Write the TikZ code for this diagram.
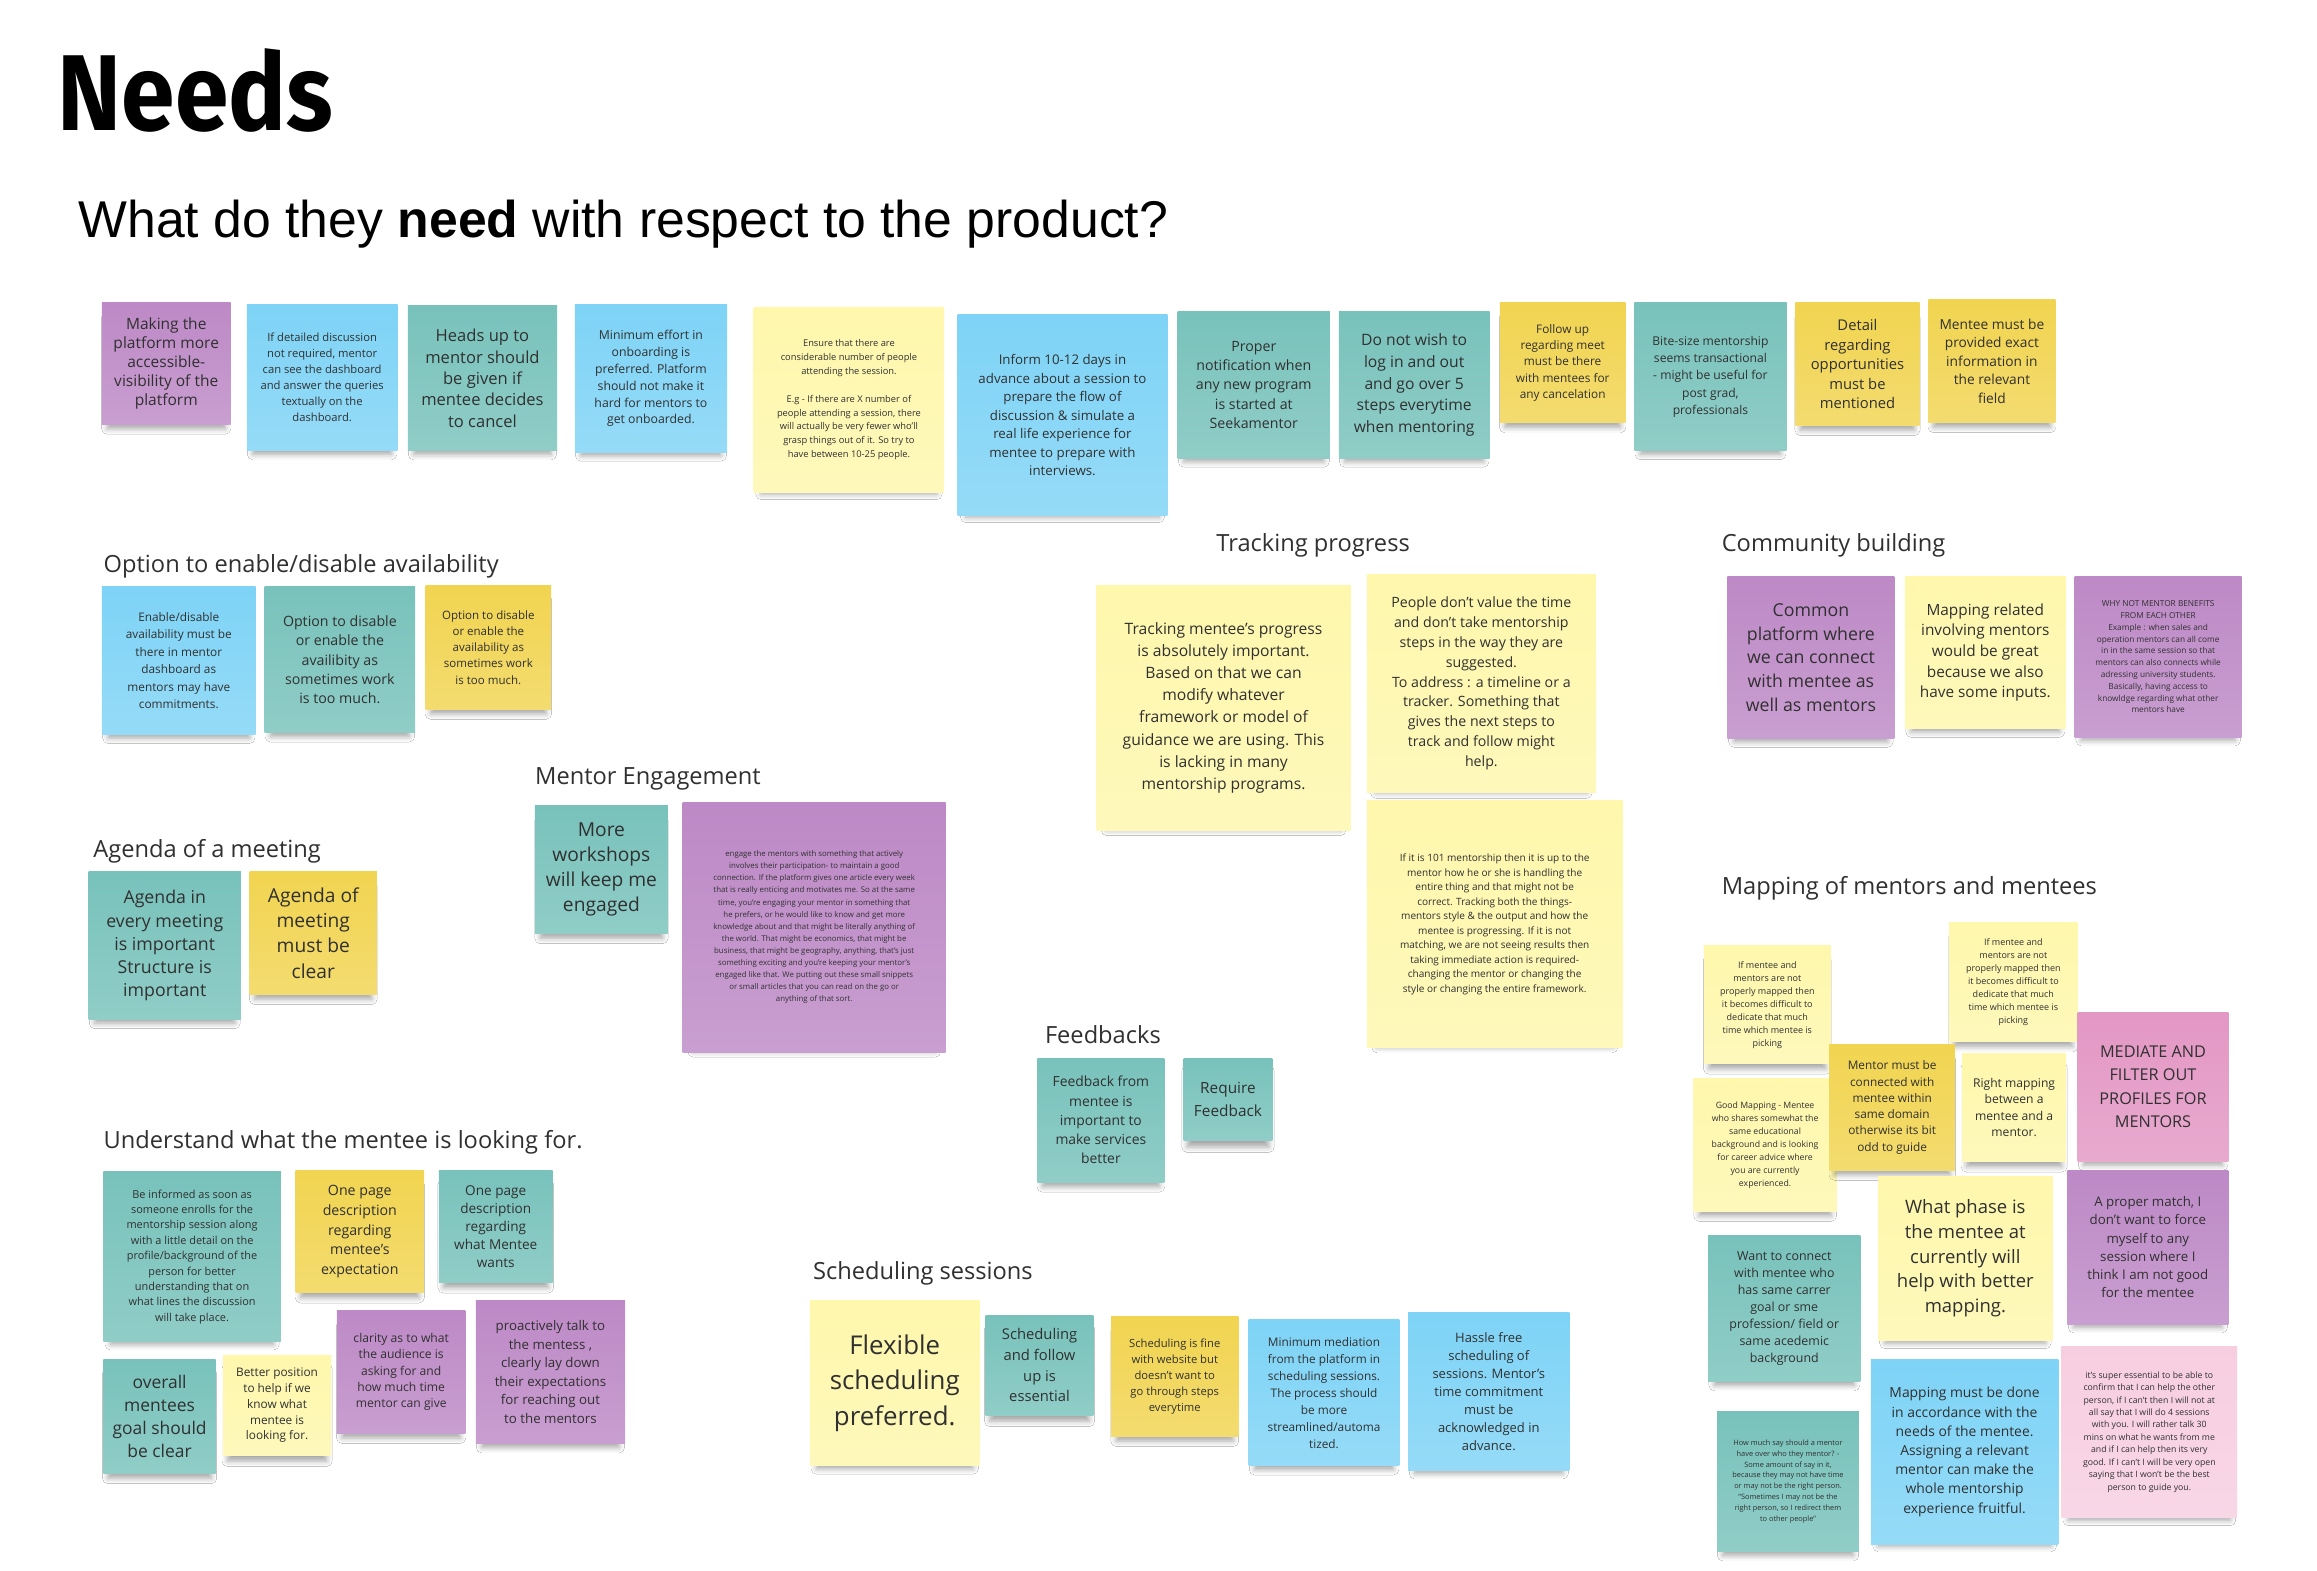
\documentclass[tikz,border=0pt]{standalone}
\usepackage{fontspec}
\setmainfont{Open Sans}
\newfontfamily\titlefont{Fira Sans}[FakeStretch=0.895]
\newfontfamily\qfont{Liberation Sans}
\usetikzlibrary{shadows.blur}
\definecolor{npurple}{RGB}{189,137,198}
\definecolor{nblue}{RGB}{126,211,246}
\definecolor{nteal}{RGB}{120,194,187}
\definecolor{nlyellow}{RGB}{254,247,172}
\definecolor{ngold}{RGB}{241,212,80}
\definecolor{npink}{RGB}{227,151,196}
\definecolor{nlpink}{RGB}{247,206,224}
\definecolor{ntext}{RGB}{48,48,48}
\tikzset{
  note/.style={rectangle, inner sep=0pt, outer sep=0pt, align=center, text=ntext,
    blur shadow={shadow xshift=0pt, shadow yshift=-7pt, shadow blur radius=4pt, shadow opacity=35, shadow scale=0.92}},
  sect/.style={anchor=west, inner sep=0pt, text=ntext, font=\fontsize{16}{19}\selectfont},
}
\newcommand\sticky[9]{\node[note, top color=#6, bottom color=#6!82!white,
  minimum width={(#4-#2)*1pt}, minimum height={(#5-#3)*1pt},
  font=\fontsize{#7}{#8}\selectfont] (#1) at ({(#2+#4)/2},{(#3+#5)/2}) {#9};}
\begin{document}
\begin{tikzpicture}[x=1pt,y=-1pt]
\useasboundingbox (0,0) rectangle (1568,1063);
\fill[white] (0,0) rectangle (1568,1063);
% titles
\node[anchor=west, inner sep=0pt, text=black, font=\titlefont\bfseries\fontsize{73}{80}\selectfont] (title) at (39,61) {Needs};
\node[anchor=west, inner sep=0pt, text=black, font=\qfont\fontsize{35}{42}\selectfont] (question) at (53,152) {What do they \textbf{need} with respect to the product?};
% top row
\sticky{n1}{69}{205}{156}{287}{npurple}{10.5}{13}{Making the\\platform more\\accessible-\\visibility of the\\platform}
\sticky{n2}{167}{206}{269}{305}{nblue}{7.6}{10.8}{If detailed discussion\\not required, mentor\\can see the dashboard\\and answer the queries\\textually on the\\dashboard.}
\sticky{n3}{276}{207}{377}{305}{nteal}{11.2}{14.5}{Heads up to\\mentor should\\be given if\\mentee decides\\to cancel}
\sticky{n4}{389}{206}{492}{306}{nblue}{8.3}{11.5}{Minimum effort in\\onboarding is\\preferred. Platform\\should not make it\\hard for mentors to\\get onboarded.}
\sticky{n5}{510}{208}{639}{333}{nlyellow}{6.3}{9.4}{Ensure that there are\\considerable number of people\\attending the session.\\[9.4pt]E.g - If there are X number of\\people attending a session, there\\will actually be very fewer who'll\\grasp things out of it. So try to\\have between 10-25 people.}
\sticky{n6}{648}{213}{790}{349}{nblue}{9}{12.5}{Inform 10-12 days in\\advance about a session to\\prepare the flow of\\discussion \& simulate a\\real life experience for\\mentee to prepare with\\interviews.}
\sticky{n7}{797}{211}{900}{310}{nteal}{9.6}{13}{Proper\\notification when\\any new program\\is started at\\Seekamentor}
\sticky{n8}{906}{211}{1008}{310}{nteal}{10.6}{14.7}{Do not wish to\\log in and out\\and go over 5\\steps everytime\\when mentoring}
\sticky{n9}{1015}{205}{1100}{286}{ngold}{8}{11}{Follow up\\regarding meet\\must be there\\with mentees for\\any cancelation}
\sticky{n10}{1106}{205}{1209}{305}{nteal}{8.2}{11.7}{Bite-size mentorship\\seems transactional\\- might be useful for\\post grad,\\professionals}
\sticky{n11}{1215}{205}{1299}{288}{ngold}{10}{13.2}{Detail\\regarding\\opportunities\\must be\\mentioned}
\sticky{n12}{1305}{203}{1391}{286}{ngold}{9.3}{12.5}{Mentee must be\\provided exact\\information in\\the relevant\\field}
% option section
\node[sect] (optlabel) at (70,383) {Option to enable/disable availability};
\sticky{o1}{69}{397}{173}{497}{nblue}{8}{11.8}{Enable/disable\\availability must be\\there in mentor\\dashboard as\\mentors may have\\commitments.}
\sticky{o2}{179}{397}{281}{496}{nteal}{9.6}{13}{Option to disable\\or enable the\\availibity as\\sometimes work\\is too much.}
\sticky{o3}{288}{396}{373}{480}{ngold}{7.8}{11}{Option to disable\\or enable the\\availability as\\sometimes work\\is too much.}
% agenda
\node[sect] (agendalabel) at (63,576) {Agenda of a meeting};
\sticky{a1}{60}{590}{163}{690}{nteal}{12}{15.7}{Agenda in\\every meeting\\is important\\Structure is\\important}
\sticky{a2}{169}{590}{255}{673}{ngold}{13}{17}{Agenda of\\meeting\\must be\\clear}
% mentor engagement
\node[sect] (mentlabel) at (362,527) {Mentor Engagement};
\sticky{m1}{362}{545}{452}{632}{nteal}{13}{17}{More\\workshops\\will keep me\\engaged}
\sticky{m2}{462}{543}{640}{712}{npurple}{5.3}{8.2}{engage the mentors with something that actively\\involves their participation- to maintain a good\\connection. If the platform gives one article every week\\that is really enticing and motivates me. So at the same\\time, you're engaging your mentor in something that\\he prefers, or he would like to know and get more\\knowledge about and that might be literally anything of\\the world. That might be economics, that might be\\business, that might be geography, anything, that's just\\something exciting and you're keeping your mentor's\\engaged like that. We putting out these small snippets\\or small articles that you can read on the go or\\anything of that sort.}
% understand
\node[sect] (undlabel) at (70,773) {Understand what the mentee is looking for.};
\sticky{u1}{70}{793}{190}{908}{nteal}{7.4}{10.4}{Be informed as soon as\\someone enrolls for the\\mentorship session along\\with a little detail on the\\profile/background of the\\person for better\\understanding that on\\what lines the discussion\\will take place.}
\sticky{u2}{200}{792}{287}{875}{ngold}{9.6}{13.3}{One page\\description\\regarding\\mentee's\\expectation}
\sticky{u3}{297}{792}{374}{868}{nteal}{9.2}{12.2}{One page\\description\\regarding\\what Mentee\\wants}
\sticky{u4}{70}{920}{146}{997}{nteal}{11.8}{15.7}{overall\\mentees\\goal should\\be clear}
\sticky{u5}{151}{917}{224}{985}{nlyellow}{8}{10.7}{Better position\\to help if we\\know what\\mentee is\\looking for.}
\sticky{u6}{228}{887}{315}{970}{npurple}{8.2}{11}{clarity as to what\\the audience is\\asking for and\\how much time\\mentor can give}
\sticky{u7}{322}{880}{423}{977}{npurple}{9}{12.6}{proactively talk to\\the mentess ,\\clearly lay down\\their expectations\\for reaching out\\to the mentors}
% tracking
\node[sect] (tracklabel) at (823,369) {Tracking progress};
\sticky{t1}{742}{396}{914}{562}{nlyellow}{10.6}{15}{Tracking mentee's progress\\is absolutely important.\\Based on that we can\\modify whatever\\framework or model of\\guidance we are using. This\\is lacking in many\\mentorship programs.}
\sticky{t2}{925}{389}{1080}{536}{nlyellow}{9.6}{13.4}{People don't value the time\\and don't take mentorship\\steps in the way they are\\suggested.\\To address : a timeline or a\\tracker. Something that\\gives the next steps to\\track and follow might\\help.}
\sticky{t3}{925}{542}{1098}{709}{nlyellow}{6.8}{9.8}{If it is 101 mentorship then it is up to the\\mentor how he or she is handling the\\entire thing and that might not be\\correct. Tracking both the things-\\mentors style \& the output and how the\\mentee is progressing. If it is not\\matching, we are not seeing results then\\taking immediate action is required-\\changing the mentor or changing the\\style or changing the entire framework.}
% community
\node[sect] (commlabel) at (1165,369) {Community building};
\sticky{c1}{1169}{390}{1282}{500}{npurple}{12}{16}{Common\\platform where\\we can connect\\with mentee as\\well as mentors}
\sticky{c2}{1289}{390}{1398}{493}{nlyellow}{10.4}{14}{Mapping related\\involving mentors\\would be great\\because we also\\have some inputs.}
\sticky{c3}{1404}{390}{1517}{499}{npurple}{5.6}{8}{WHY NOT MENTOR BENEFITS\\FROM EACH OTHER\\Example : when sales and\\operation mentors can all come\\in in the same session so that\\mentors can also connects while\\adressing university students.\\Basically, having access to\\knowldge regarding what other\\mentors have}
% feedbacks
\node[sect] (feedlabel) at (707,700) {Feedbacks};
\sticky{f1}{702}{716}{788}{800}{nteal}{9.4}{13}{Feedback from\\mentee is\\important to\\make services\\better}
\sticky{f2}{801}{716}{861}{772}{nteal}{10.4}{15}{Require\\Feedback}
% scheduling
\node[sect] (schedlabel) at (550,862) {Scheduling sessions};
\sticky{s1}{548}{880}{663}{992}{nlyellow}{17.5}{24}{Flexible\\scheduling\\preferred.}
\sticky{s2}{667}{890}{740}{958}{nteal}{10}{14}{Scheduling\\and follow\\up is\\essential}
\sticky{s3}{752}{891}{838}{972}{ngold}{7.6}{10.7}{Scheduling is fine\\with website but\\doesn't want to\\go through steps\\everytime}
\sticky{s4}{845}{893}{947}{992}{nblue}{8}{11.5}{Minimum mediation\\from the platform in\\scheduling sessions.\\The process should\\be more\\streamlined/automa\\tized.}
\sticky{s5}{953}{888}{1062}{995}{nblue}{8.8}{12.2}{Hassle free\\scheduling of\\sessions. Mentor's\\time commitment\\must be\\acknowledged in\\advance.}
% mapping
\node[sect] (maplabel) at (1165,601) {Mapping of mentors and mentees};
\sticky{p1}{1153}{640}{1239}{720}{nlyellow}{6.1}{8.8}{If mentee and\\mentors are not\\properly mapped then\\it becomes difficult to\\dedicate that much\\time which mentee is\\picking}
\sticky{p2}{1319}{624}{1406}{705}{nlyellow}{6.1}{8.8}{If mentee and\\mentors are not\\properly mapped then\\it becomes difficult to\\dedicate that much\\time which mentee is\\picking}
\sticky{p6}{1146}{730}{1243}{820}{nlyellow}{5.9}{8.7}{Good Mapping - Mentee\\who shares somewhat the\\same educational\\background and is looking\\for career advice where\\you are currently\\experienced.}
\sticky{p3}{1238}{707}{1323}{792}{ngold}{8}{11}{Mentor must be\\connected with\\mentee within\\same domain\\otherwise its bit\\odd to guide}
\sticky{p4}{1328}{713}{1398}{786}{nlyellow}{8.2}{11}{Right mapping\\between a\\mentee and a\\mentor.}
\sticky{p5}{1406}{685}{1508}{786}{npink}{11}{15.7}{MEDIATE AND\\FILTER OUT\\PROFILES FOR\\MENTORS}
\sticky{p7}{1271}{796}{1389}{907}{nlyellow}{12.5}{16.7}{What phase is\\the mentee at\\currently will\\help with better\\mapping.}
\sticky{p8}{1399}{792}{1508}{896}{npurple}{9}{12.3}{A proper match, I\\don't want to force\\myself to any\\session where I\\think I am not good\\for the mentee}
\sticky{p9}{1156}{836}{1259}{935}{nteal}{8.4}{11.5}{Want to connect\\with mentee who\\has same carrer\\goal or sme\\profession/ field or\\same acedemic\\background}
\sticky{p10}{1162}{955}{1258}{1050}{nteal}{5}{7.3}{How much say should a mentor\\have over who they mentor? -\\Some amount of say in it,\\because they may not have time\\or may not be the right person.\\“Sometimes I may not be the\\right person, so I redirect them\\to other people”}
\sticky{p11}{1266}{920}{1393}{1045}{nblue}{9.4}{13}{Mapping must be done\\in accordance with the\\needs of the mentee.\\Assigning a relevant\\mentor can make the\\whole mentorship\\experience fruitful.}
\sticky{p12}{1395}{911}{1514}{1027}{nlpink}{5.9}{8.4}{it's super essential to be able to\\confirm that I can help the other\\person, if I can't then I will not at\\all say that I will do 4 sessions\\with you. I will rather talk 30\\mins on what he wants from me\\and if I can help then its very\\good. If I can't I will be very open\\saying that I won't be the best\\person to guide you.}
\end{tikzpicture}
\end{document}
